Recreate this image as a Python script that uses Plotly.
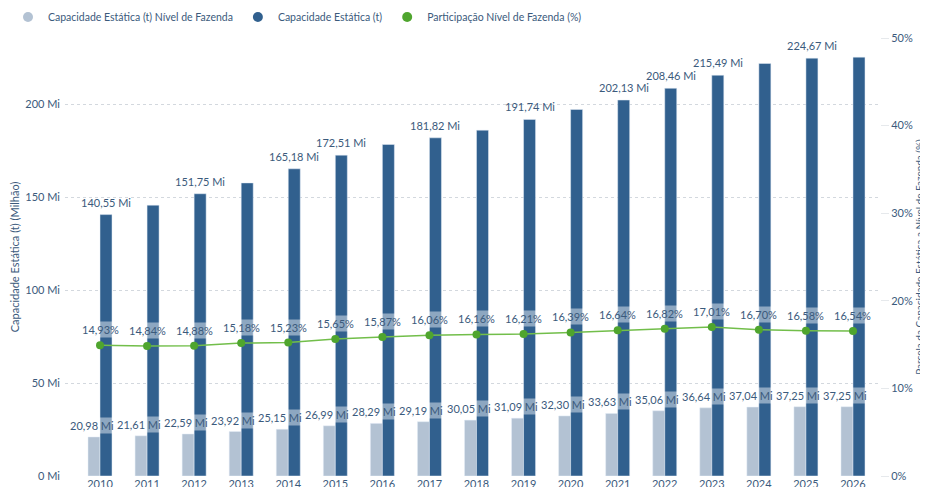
import plotly.graph_objects as go

years = [str(y) for y in range(2010, 2027)]
farm_capacity = [20.98, 21.61, 22.59, 23.92, 25.15, 26.99, 28.29, 29.19, 30.05,
                 31.09, 32.30, 33.63, 35.06, 36.64, 37.04, 37.25, 37.25]
total_capacity = [140.55, 145.62, 151.75, 157.58, 165.18, 172.51, 178.26, 181.82, 185.95,
                  191.74, 197.07, 202.13, 208.46, 215.49, 221.80, 224.67, 225.21]
farm_share = [14.93, 14.84, 14.88, 15.18, 15.23, 15.65, 15.87, 16.06, 16.16,
              16.21, 16.39, 16.64, 16.82, 17.01, 16.70, 16.58, 16.54]
total_labelled_years = ["2010", "2012", "2014", "2015", "2017", "2019", "2021",
                        "2022", "2023", "2025"]
left_ticks = [0, 50, 100, 150, 200]
right_ticks = [0, 10, 20, 30, 40, 50]

FONT = "Segoe UI, Lato, Noto Sans, sans-serif"
TXT = "#3B5A7C"
DARK = "#31608E"
LIGHT = "#B3C2D3"
GREEN_LINE = "#72BE4A"
GREEN_MK = "#4FA52E"


def br(v, suffix):
    return f"{v:.2f}".replace(".", ",") + suffix


fig = go.Figure()
fig.add_trace(go.Bar(x=years, y=farm_capacity, name="Capacidade Estática (t) Nível de Fazenda",
                     marker_color=LIGHT, showlegend=False))
fig.add_trace(go.Bar(x=years, y=total_capacity, name="Capacidade Estática (t)",
                     marker_color=DARK, showlegend=False))
fig.add_trace(go.Scatter(x=years, y=farm_share, name="Participação Nível de Fazenda (%)",
                         yaxis="y2", mode="lines+markers",
                         line=dict(color=GREEN_LINE, width=1.5),
                         marker=dict(color=GREEN_MK, size=8), showlegend=False))

# legend entries (circle symbols as in the reference)
for nm, col in [("Capacidade Estática (t) Nível de Fazenda", LIGHT),
                ("Capacidade Estática (t)", DARK),
                ("Participação Nível de Fazenda (%)", GREEN_MK)]:
    fig.add_trace(go.Scatter(x=[years[0]], y=[None], mode="markers", name=nm,
                             marker=dict(color=col, size=10, symbol="circle")))

annotations = []
bg = "rgba(255,255,255,0.45)"
for i, v in enumerate(farm_capacity):
    annotations.append(dict(x=i, y=v, xref="x", yref="y", text=br(v, " Mi"),
                            showarrow=False, yanchor="bottom", xshift=-8, yshift=3,
                            bgcolor=bg, borderpad=1,
                            font=dict(family=FONT, size=11, color=TXT)))
for i, (yr, v) in enumerate(zip(years, total_capacity)):
    if yr in total_labelled_years:
        annotations.append(dict(x=i, y=v, xref="x", yref="y", text=br(v, " Mi"),
                                showarrow=False, yanchor="bottom", xshift=6, yshift=4,
                                font=dict(family=FONT, size=11, color=TXT)))
for i, v in enumerate(farm_share):
    annotations.append(dict(x=i, y=v, xref="x", yref="y2", text=br(v, "%"),
                            showarrow=False, yanchor="bottom", yshift=7,
                            bgcolor=bg, borderpad=1,
                            font=dict(family=FONT, size=11, color=TXT)))

fig.update_layout(
    width=928, height=487,
    margin=dict(l=57, r=56, t=30, b=19),
    paper_bgcolor="white", plot_bgcolor="white",
    font=dict(family=FONT, size=11, color=TXT),
    barmode="group", bargap=0.49, bargroupgap=0,
    annotations=annotations,
    legend=dict(orientation="h", xref="container", yref="container",
                x=-0.0097, y=0.9815, xanchor="left", yanchor="middle",
                font=dict(family=FONT, size=10.5, color=TXT),
                itemwidth=30, tracegroupgap=0, bgcolor="rgba(0,0,0,0)"),
    xaxis=dict(type="category", categoryorder="array", categoryarray=years,
               range=[-0.744, len(years) - 1 + 0.574],
               showgrid=False, showline=False, ticks="",
               tickfont=dict(family=FONT, size=11, color=TXT), automargin=False),
    yaxis=dict(range=[0, 235.5], tickvals=left_ticks,
               ticktext=[f"{t} Mi" for t in left_ticks],
               showgrid=True, gridcolor="#D3D8DE", griddash="dot", gridwidth=1,
               zeroline=False, ticks="", ticklabelstandoff=4,
               tickfont=dict(family=FONT, size=11, color=TXT),
               title=dict(text="Capacidade Estática (t) (Milhão)", standoff=3,
                          font=dict(family=FONT, size=11, color=TXT)),
               automargin=False),
    yaxis2=dict(range=[0, 50], tickvals=right_ticks,
                ticktext=[f"{t}%" for t in right_ticks],
                overlaying="y", side="right", showgrid=False, zeroline=False,
                ticks="outside", ticklen=8, tickcolor="#E6E9EC",
                tickfont=dict(family=FONT, size=11, color=TXT),
                title=dict(text="Parcela da Capacidade Estática a Nível de Fazenda (%)",
                           standoff=0, font=dict(family=FONT, size=10, color=TXT)),
                automargin=False),
)

fig.write_html("out.html")
